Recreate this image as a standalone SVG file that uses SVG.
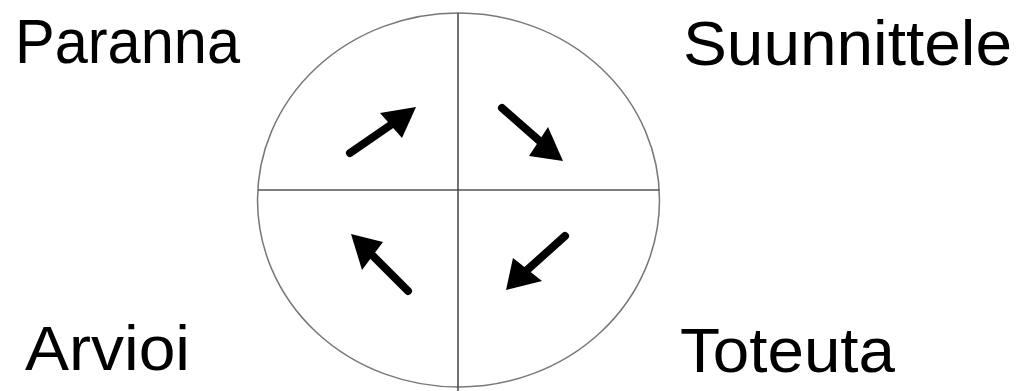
<svg xmlns="http://www.w3.org/2000/svg" width="1023" height="391" viewBox="0 0 1023 391">
<style>
.lbl{font-family:"Liberation Sans",Arial,sans-serif;font-size:63px;fill:#000}
.shaft{stroke:#000;stroke-width:8;stroke-linecap:round;fill:none}
.head{fill:#000}
</style>
<rect width="1023" height="391" fill="#fff"/>
<g id="circle">
<ellipse cx="458.5" cy="200" rx="201" ry="187" fill="none" stroke="#777" stroke-width="1.5"/>
<line x1="258" y1="190" x2="659.5" y2="190" stroke="#555" stroke-width="1.5"/>
<line x1="458" y1="13" x2="458" y2="391" stroke="#444" stroke-width="1.5"/>
</g>
<g id="connectors">
<line class="shaft" x1="350" y1="153" x2="395" y2="122"/>
<polygon class="head" points="416,107 380,113 402,138"/>
<line class="shaft" x1="502" y1="108" x2="543" y2="144"/>
<polygon class="head" points="563,161 548,127 529,156"/>
<line class="shaft" x1="565" y1="236" x2="526" y2="271"/>
<polygon class="head" points="506,290 513,258 542,281"/>
<line class="shaft" x1="408" y1="291" x2="370" y2="253"/>
<polygon class="head" points="351,234 383,242 362,270"/>
</g>
<g id="paranna"><text class="lbl" x="15" y="63" textLength="225" lengthAdjust="spacingAndGlyphs">Paranna</text></g>
<g id="suunnittele"><text class="lbl" x="683" y="65" textLength="329" lengthAdjust="spacingAndGlyphs">Suunnittele</text></g>
<g id="arvioi"><text class="lbl" x="25" y="370" textLength="165" lengthAdjust="spacingAndGlyphs">Arvioi</text></g>
<g id="toteuta"><text class="lbl" x="680" y="372" textLength="215" lengthAdjust="spacingAndGlyphs">Toteuta</text></g>
</svg>
